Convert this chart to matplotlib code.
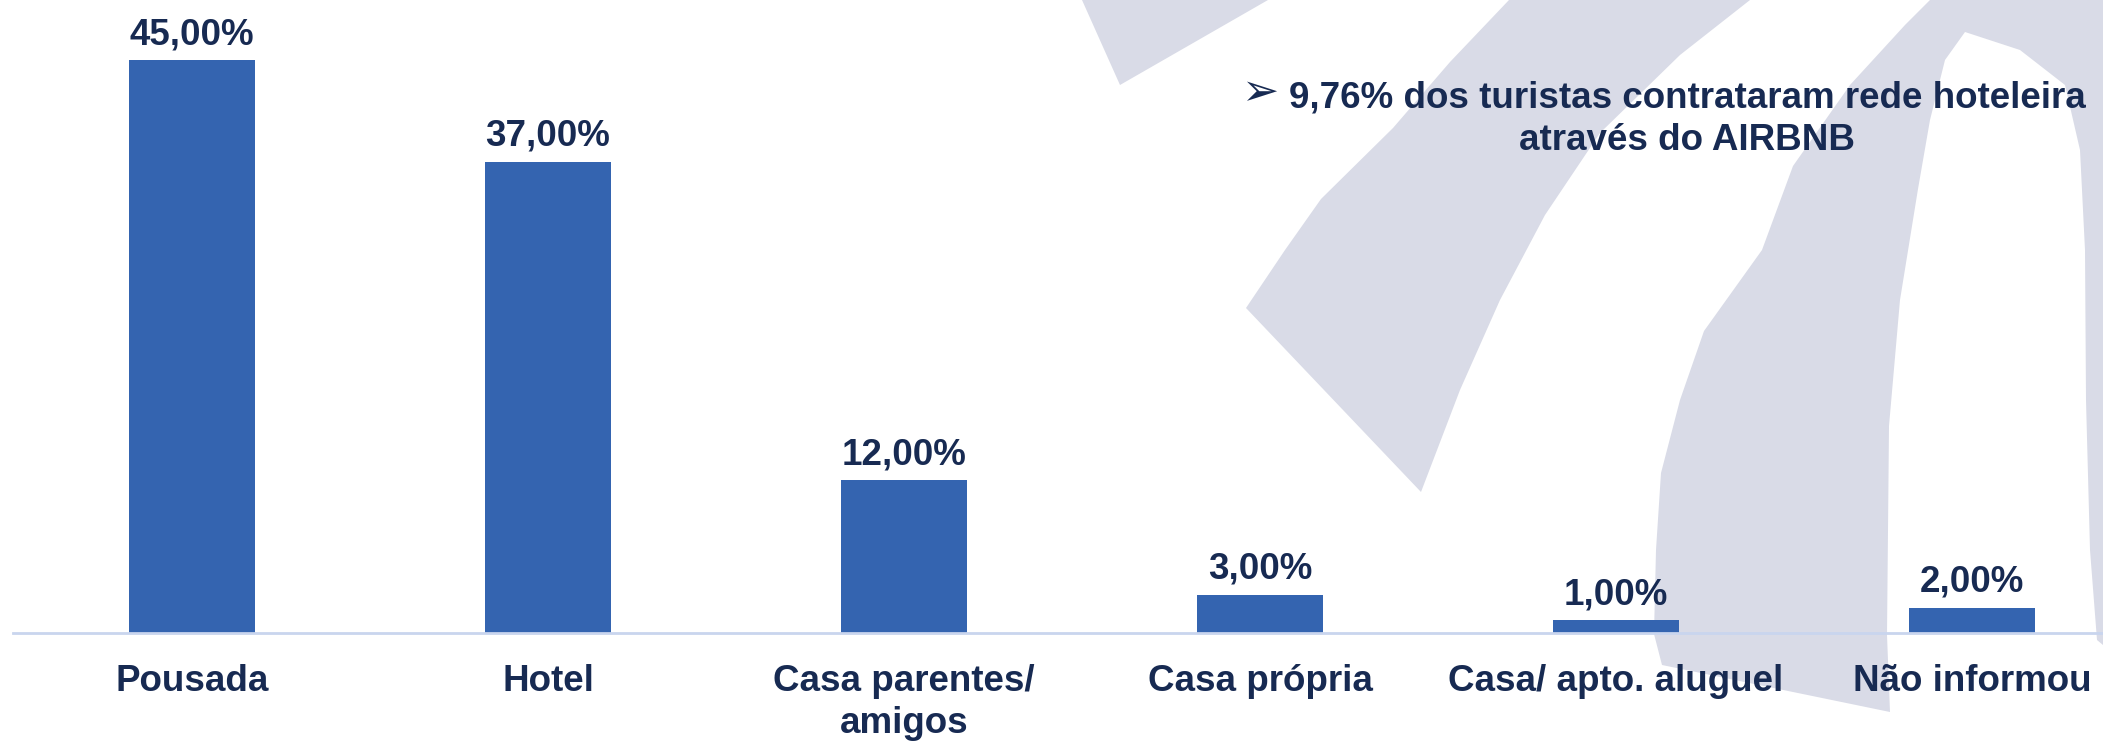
import numpy as np
import matplotlib
matplotlib.use("Agg")
import matplotlib.pyplot as plt
from matplotlib.patches import Polygon

plt.rcParams['font.family'] = ['Liberation Sans', 'DejaVu Sans']
plt.rcParams['font.weight'] = 'bold'

# data
categorias = ['Pousada', 'Hotel', 'Casa parentes/\namigos', 'Casa própria',
              'Casa/ apto. aluguel', 'Não informou']
valores = [45.0, 37.0, 12.0, 3.0, 1.0, 2.0]
rotulos = ['45,00%', '37,00%', '12,00%', '3,00%', '1,00%', '2,00%']
nota = '9,76% dos turistas contrataram rede hoteleira\natravés do AIRBNB'

azul = '#3464b0'
texto = '#172a52'
fundo = '#d9dbe7'

W, H = 2103, 742
fig = plt.figure(figsize=(W / 100, H / 100), dpi=100)

# marca d'agua no fundo (coordenadas em pixels da imagem)
def px(pts):
    return [(x / W, 1 - y / H) for x, y in pts]

faixa_a = [(1082, 0), (1120, 85), (1268, 0)]
faixa_b = [(1509, 0), (1750, 0), (1680, 55), (1600, 133), (1545, 215),
           (1500, 300), (1460, 390), (1421, 492), (1246, 308), (1285, 250),
           (1321, 199), (1393, 128), (1450, 62)]
faixa_c = [(1930, 0), (2103, 0), (2103, 645), (2097, 640), (2090, 550),
           (2086, 400), (2085, 250), (2080, 150), (2065, 85), (2020, 50),
           (1965, 32), (1945, 60), (1930, 120), (1918, 189), (1900, 300),
           (1889, 426), (1887, 635), (1890, 712), (1662, 665), (1654, 634),
           (1656, 550), (1661, 473), (1680, 400), (1704, 331), (1762, 250),
           (1793, 166), (1850, 85), (1905, 25)]
for f in (faixa_a, faixa_b, faixa_c):
    fig.patches.append(Polygon(px(f), closed=True, transform=fig.transFigure,
                               facecolor=fundo, edgecolor='none', zorder=0))

ax = fig.add_axes([13 / W, 109 / H, 2090 / W, 633 / H])
ax.patch.set_alpha(0)
ax.set_zorder(1)

x = np.arange(len(categorias))
barras = ax.bar(x, valores, width=0.354, color=azul, zorder=2)

for b, r in zip(barras, rotulos):
    ax.annotate(r, (b.get_x() + b.get_width() / 2, b.get_height()),
                xytext=(0, 11.5), textcoords='offset points',
                ha='center', va='baseline', fontsize=26.5,
                fontweight='bold', color=texto)

ax.set_xlim(-0.503, 5.368)
ax.set_ylim(0, 49.71)
ax.set_xticks(x)
ax.set_xticklabels(categorias, fontsize=26.5, fontweight='bold', color=texto,
                   linespacing=1.27)
ax.tick_params(axis='x', length=0, pad=22)
ax.set_yticks([])
for s in ['left', 'right', 'top']:
    ax.spines[s].set_visible(False)
ax.spines['bottom'].set_color('#c9d5ee')
ax.spines['bottom'].set_linewidth(2)

# nota (baseline da ultima linha)
fig.text(1687 / W, 1 - 150 / H, nota, ha='center', va='baseline',
         fontsize=26.5, fontweight='bold', color=texto, linespacing=1.27,
         multialignment='center', zorder=5)
fig.text(1278 / W, 1 - 105 / H, '➢', ha='right', va='baseline',
         fontsize=32, color=texto, family=['DejaVu Sans'], zorder=5)

fig.savefig('out.png', dpi=100)
